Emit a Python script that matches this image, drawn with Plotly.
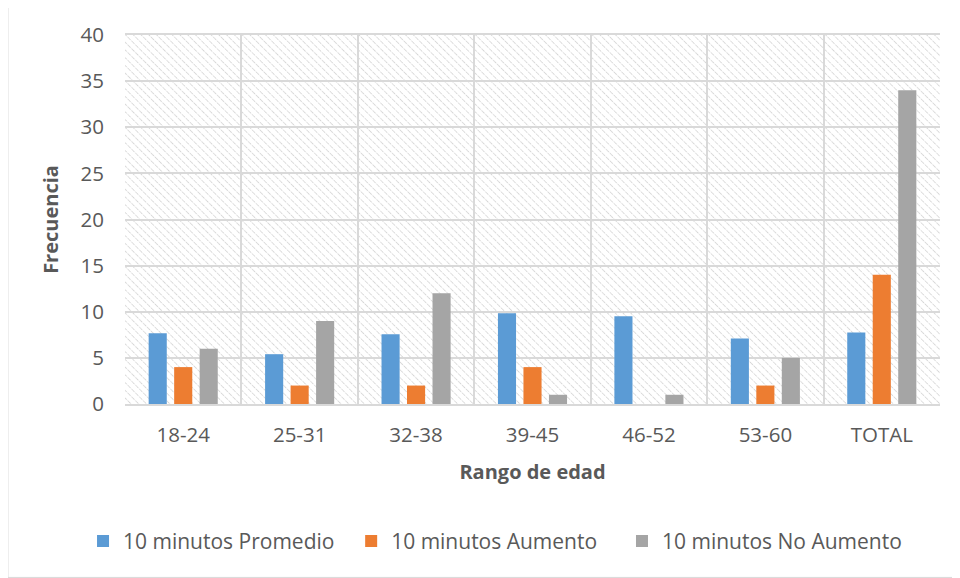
import base64
import plotly.graph_objects as go

categories = ["18-24", "25-31", "32-38", "39-45", "46-52", "53-60", "TOTAL"]
promedio = [7.67, 5.4, 7.55, 9.85, 9.5, 7.1, 7.75]
aumento = [4, 2, 2, 4, 0, 2, 14]
no_aumento = [6, 9, 12, 1, 1, 5, 34]
series_names = ["10 minutos Promedio", "10 minutos Aumento", "10 minutos No Aumento"]
colors = ["#5B9BD5", "#ED7D31", "#A5A5A5"]
y_ticks = [0, 5, 10, 15, 20, 25, 30, 35, 40]

FONT = "Open Sans"
TXT = "#595959"
legend_ids = ["legend", "legend2", "legend3"]
legend_x = [-0.0515, 0.2775, 0.6098]

fig = go.Figure()
for name, vals, col, lg in zip(series_names, [promedio, aumento, no_aumento], colors, legend_ids):
    fig.add_trace(go.Bar(x=categories, y=vals, name=name, marker_color=col,
                         marker_line_width=0, legend=lg, showlegend=True))

svg = ("<svg xmlns='http://www.w3.org/2000/svg' width='815' height='371'>"
       "<defs><pattern id='p' width='5.5' height='5.5' patternUnits='userSpaceOnUse' "
       "patternTransform='rotate(-45)'>"
       "<line x1='0' y1='0' x2='0' y2='5.5' stroke='#cfcfcf' stroke-width='1.5' "
       "stroke-dasharray='2,1.2'/></pattern></defs>"
       "<rect width='100%' height='100%' fill='url(#p)'/></svg>")
uri = "data:image/svg+xml;base64," + base64.b64encode(svg.encode()).decode()

legend_common = dict(orientation="h", xanchor="left", y=-0.372, yanchor="middle",
                     font=dict(size=21, color=TXT), itemsizing="constant",
                     bgcolor="rgba(0,0,0,0)")

fig.update_layout(
    width=960, height=578,
    margin=dict(l=117, r=28, t=25, b=182),
    paper_bgcolor="white", plot_bgcolor="rgba(0,0,0,0)",
    font=dict(family=FONT, size=20, color=TXT),
    showlegend=True,
    barmode="group", bargap=0.343, bargroupgap=0.29,
    images=[dict(source=uri, xref="paper", yref="paper", x=0, y=1,
                 sizex=1, sizey=1, sizing="stretch", layer="below",
                 xanchor="left", yanchor="top")],
    legend=dict(x=legend_x[0], **legend_common),
    legend2=dict(x=legend_x[1], **legend_common),
    legend3=dict(x=legend_x[2], **legend_common),
    shapes=[dict(type="rect", xref="paper", yref="paper",
                 x0=-0.1436, x1=1.05, y0=-0.47, y1=1.0755,
                 line=dict(color="#d9d9d9", width=1), fillcolor="rgba(0,0,0,0)",
                 layer="below")],
)
fig.update_xaxes(tickson="boundaries", showgrid=True, gridcolor="#d9d9d9", gridwidth=1.5,
                 showline=True, linecolor="#d9d9d9", linewidth=1.5, mirror=True,
                 ticks="", tickfont=dict(size=20.5, color=TXT), ticklabelstandoff=12,
                 title=dict(text="<b>Rango de edad</b>", font=dict(size=20, color=TXT), standoff=18))
fig.update_yaxes(range=[0, 40], tickvals=y_ticks, showgrid=True, gridcolor="#d9d9d9",
                 gridwidth=1.5, zeroline=False, showline=False, ticks="",
                 tickfont=dict(size=20.5, color=TXT), ticklabelstandoff=20,
                 title=dict(text="<b>Frecuencia</b>", font=dict(size=20, color=TXT), standoff=16))

fig.write_html("out.html")
